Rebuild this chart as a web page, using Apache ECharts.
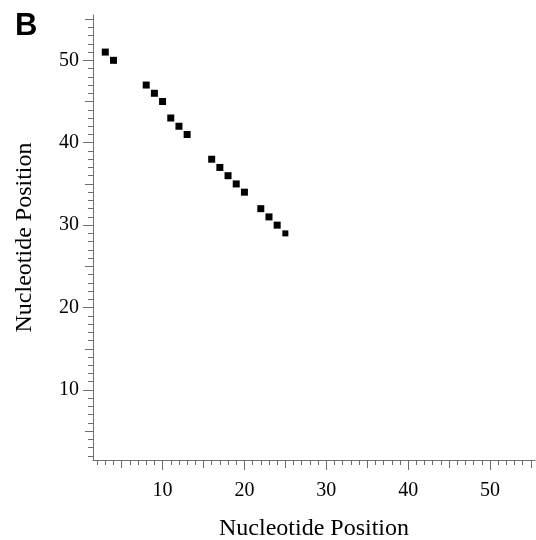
<!DOCTYPE html>
<html>
<head>
<meta charset="utf-8">
<title>Nucleotide Position</title>
<script src="https://cdn.jsdelivr.net/npm/echarts@6/dist/echarts.min.js"></script>
<style>
  html, body { margin: 0; padding: 0; background: #fff; }
  #chart { width: 536px; height: 540px; }
</style>
</head>
<body>
<div id="chart"></div>
<script>
// 数据点 (x, y)
var xValues = [3, 4, 8, 9, 10, 11, 12, 13, 16, 17, 18, 19, 20, 22, 23, 24, 25];
var yValues = [51, 50, 47, 46, 45, 43, 42, 41, 38, 37, 36, 35, 34, 32, 31, 30, 29];
// 刻度
var majorTicks = [10, 20, 30, 40, 50];
var midTicks = [5, 15, 25, 35, 45, 55];
var axisMin = 1.5;
var axisMax = 55.5;

function smart_plot() {
  var myChart = echarts.init(document.querySelector("#chart"));

  var minorTicks = [];
  for (var v = Math.ceil(axisMin); v <= axisMax; v++) {
    minorTicks.push(v);
  }

  var points = [];
  for (var i = 0; i < xValues.length; i++) {
    points.push([xValues[i], yValues[i]]);
  }

  var tickColor = "#6e6e6e";
  var serif = "Liberation Serif";

  // 同一方向叠三根轴，画出长短不同的刻度
  function makeAxes(dim) {
    var isX = dim === "x";
    var base = {
      type: "value",
      min: axisMin,
      max: axisMax,
      position: isX ? "bottom" : "left",
      splitLine: { show: false },
      axisLine: { show: false, onZero: false },
      axisLabel: { show: false },
    };
    var main = echarts.util.merge({
      axisLine: { show: true, onZero: false, lineStyle: { color: tickColor, width: 1 } },
      axisTick: { show: true, customValues: majorTicks, length: 10, lineStyle: { color: tickColor } },
      axisLabel: {
        show: true,
        customValues: majorTicks,
        color: "#000",
        fontFamily: serif,
        fontSize: 20,
        margin: isX ? 21 : 14
      },
      name: "Nucleotide Position",
      nameLocation: "middle",
      nameGap: isX ? 57 : 56,
      nameTextStyle: {
        color: "#000",
        fontFamily: serif,
        fontSize: 24
      }
    }, echarts.util.clone(base), false);
    var mid = echarts.util.merge({
      axisTick: { show: true, customValues: midTicks, length: 8, lineStyle: { color: tickColor } }
    }, echarts.util.clone(base), false);
    var minor = echarts.util.merge({
      axisTick: { show: true, customValues: minorTicks, length: 5, lineStyle: { color: tickColor } }
    }, echarts.util.clone(base), false);
    return [main, mid, minor];
  }

  var option = {
    animation: false,
    title: {
      text: "B",
      left: 10,
      top: 6,
      textStyle: {
        fontFamily: "Liberation Sans",
        fontWeight: "bold",
        fontSize: 31,
        color: "#000"
      }
    },
    grid: {
      left: 93,
      right: 1,
      top: 15,
      bottom: 80,
      containLabel: false,
      outerBoundsMode: "none"
    },
    xAxis: makeAxes("x"),
    yAxis: makeAxes("y"),
    series: [{
      type: "scatter",
      xAxisIndex: 0,
      yAxisIndex: 0,
      symbol: "rect",
      symbolSize: function (val, params) {
        return params.dataIndex === points.length - 1 ? 6 : 7;
      },
      itemStyle: { color: "#000", opacity: 1 },
      data: points
    }]
  };

  myChart.setOption(option);
}
smart_plot();
</script>
</body>
</html>
